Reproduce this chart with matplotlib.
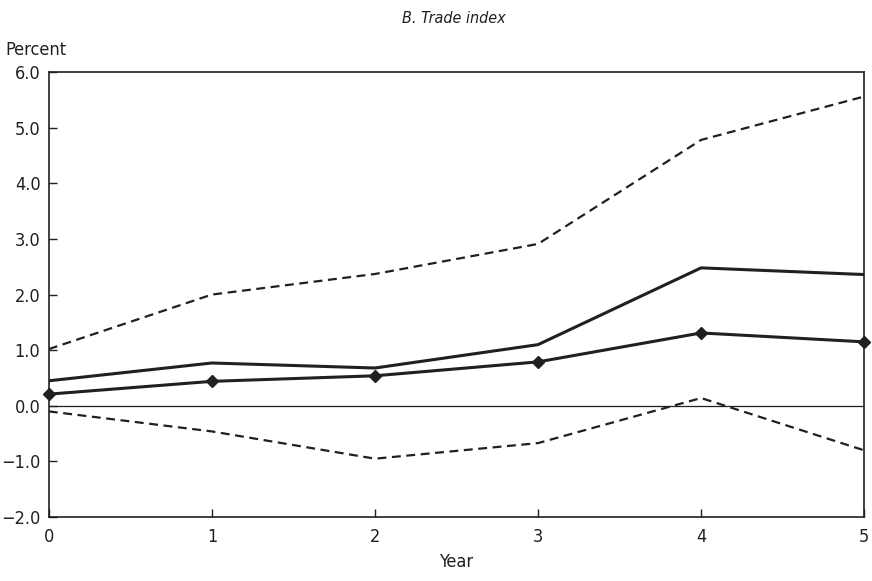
import matplotlib
matplotlib.use("Agg")
import matplotlib.pyplot as plt

plt.rcParams['font.family'] = ['DejaVu Sans']
plt.rcParams['font.stretch'] = 'condensed'

years = [0, 1, 2, 3, 4, 5]
upper = [1.02, 2.0, 2.37, 2.91, 4.78, 5.56]
lower = [-0.10, -0.46, -0.95, -0.67, 0.14, -0.80]
point = [0.21, 0.44, 0.54, 0.79, 1.31, 1.15]
other = [0.45, 0.77, 0.68, 1.10, 2.48, 2.36]

fig = plt.figure(figsize=(8.72, 5.81), dpi=100)
ax = fig.add_axes([0.056, 0.110, 0.935, 0.766])

ax.axhline(0, color="#231f20", lw=0.9, zorder=1)
ax.plot(years, upper, color="#231f20", lw=1.6, dashes=(4, 2.5))
ax.plot(years, lower, color="#231f20", lw=1.6, dashes=(4, 2.5))
ax.plot(years, other, color="#231f20", lw=2.2)
ax.plot(years, point, color="#231f20", lw=2.2, marker="D", ms=6.5, clip_on=False, zorder=5)

ax.set_xlim(0, 5)
ax.set_ylim(-2, 6)
yt = [-2, -1, 0, 1, 2, 3, 4, 5, 6]
ax.set_yticks(yt)
ax.set_yticklabels([f"{v:.1f}".replace("-", "\u2212") for v in yt])
ax.set_xticks(years)
ax.tick_params(direction="in", length=6, width=1, labelsize=13, colors="#231f20")
ax.tick_params(axis="x", pad=8)
ax.tick_params(axis="y", pad=6)
for s in ax.spines.values():
    s.set_linewidth(1.2)
    s.set_color("#231f20")

ax.set_xlabel("Year", fontsize=13, labelpad=5, color="#231f20")
fig.text(0.006, 0.914, "Percent", fontsize=13, color="#231f20", va="center")
fig.text(0.52, 0.969, "B. Trade index", fontsize=11.5, style="italic", ha="center", va="center", color="#231f20")

fig.savefig("out.png", dpi=100)
